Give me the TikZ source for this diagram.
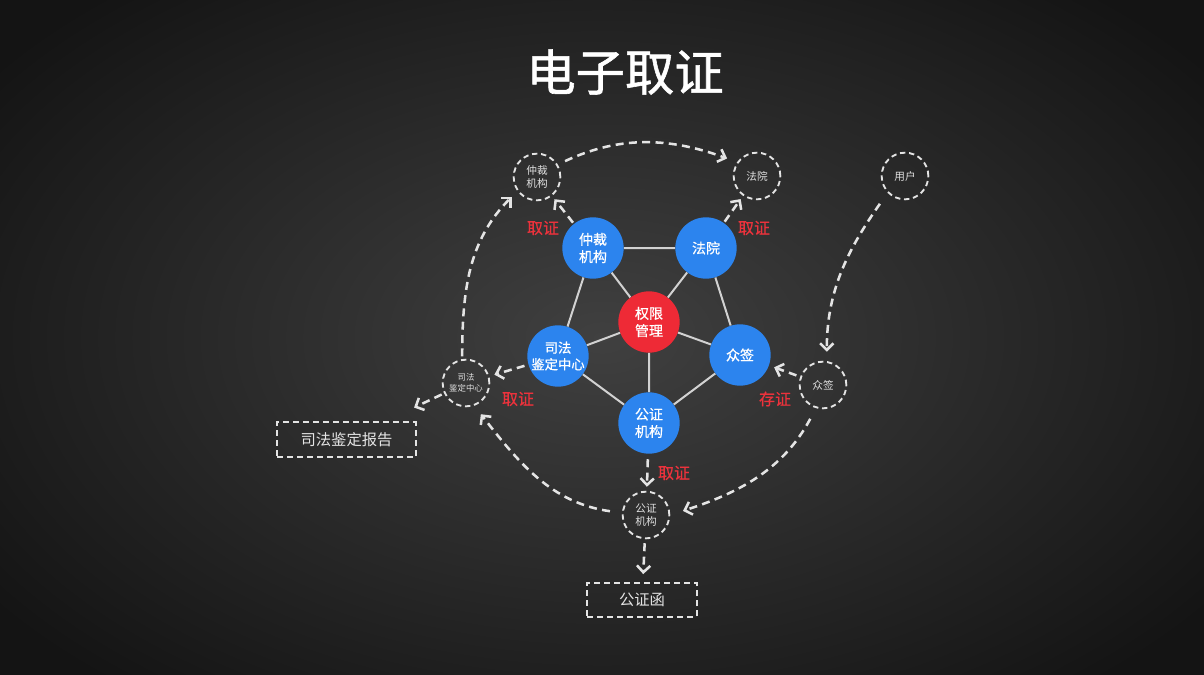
\documentclass[tikz,border=0pt]{standalone}
\usepackage{fontspec}
\setmainfont{Noto Sans CJK SC}
\newfontfamily\titlefont{Noto Sans CJK SC}[FakeBold=1.2]
\newfontfamily\nodefont{Noto Sans CJK SC}[FakeBold=0.6]
\usetikzlibrary{arrows.meta}
\definecolor{bgin}{RGB}{64,64,64}
\definecolor{bgout}{RGB}{20,20,20}
\definecolor{nblue}{RGB}{44,132,238}
\definecolor{nred}{RGB}{238,42,54}
\definecolor{lred}{RGB}{236,50,60}
\definecolor{dline}{RGB}{228,228,228}
\definecolor{sline}{RGB}{210,210,210}
\begin{document}
\begin{tikzpicture}[x=0.75pt,y=0.75pt,
  bluec/.style={circle,fill=nblue,minimum size=46pt,inner sep=0pt,text=white,align=center,font=\nodefont\fontsize{10.5}{13}\selectfont},
  redc/.style={bluec,fill=nred},
  dcirc/.style={circle,draw=dline,line width=1.4pt,dash pattern=on 4pt off 2.8pt,minimum size=35pt,inner sep=0pt,text=white!88!black,align=center,font=\fontsize{8}{10}\selectfont},
  dbox/.style={draw=dline,line width=1.4pt,dash pattern=on 4.5pt off 3pt,inner sep=0pt,text=white!90!black,font=\fontsize{11.5}{13}\selectfont},
  solidedge/.style={draw=sline,line width=1.5pt},
  darrow/.style={draw=dline,line width=1.9pt,dash pattern=on 6pt off 4pt,-{Straight Barb[length=5pt,width=10pt]}},
  lab/.style={text=lred,font=\nodefont\fontsize{12}{14}\selectfont}]
\useasboundingbox (0,0) rectangle (1204,-675);
\fill[inner color=bgin,outer color=bgout] (-150,120) rectangle (1354,-795);
% title
\node[text=white,font=\titlefont\fontsize{37}{40}\selectfont] (title) at (625,-72) {电子取证};
% central nodes
\node[redc] (rc) at (649,-322) {权限\\管理};
\node[bluec] (b1) at (593,-248) {仲裁\\机构};
\node[bluec] (b2) at (706,-248) {法院};
\node[bluec,font=\nodefont\fontsize{10}{12.5}\selectfont] (b3) at (558,-356) {司法\\鉴定中心};
\node[bluec] (b4) at (740,-355) {众签};
\node[bluec] (b5) at (649,-423) {公证\\机构};
% solid edges
\path[solidedge] (b1) -- (b2) (b2) -- (b4) (b4) -- (b5) (b5) -- (b3) (b3) -- (b1)
  (rc) -- (b1) (rc) -- (b2) (rc) -- (b3) (rc) -- (b4) (rc) -- (b5);
% dashed outer nodes
\node[dcirc] (s1) at (537,-177) {仲裁\\机构};
\node[dcirc] (s2) at (757,-176) {法院};
\node[dcirc] (su) at (905,-176) {用户};
\node[dcirc,font=\fontsize{6.3}{8}\selectfont] (s3) at (466,-383) {司法\\鉴定中心};
\node[dcirc] (s4) at (823,-385) {众签};
\node[dcirc] (s5) at (646,-515) {公证\\机构};
\node[dbox,minimum width=104pt,minimum height=26pt] (r1) at (346.5,-439.5) {司法鉴定报告};
\node[dbox,minimum width=82pt,minimum height=25.5pt] (r2) at (642,-600) {公证函};
% labels
\node[lab] (l1) at (543,-228) {取证};
\node[lab] (l2) at (754,-228) {取证};
\node[lab] (l3) at (518,-399) {取证};
\node[lab] (l4) at (674,-473) {取证};
\node[lab] (l5) at (775,-399) {存证};
% short dashed arrows
\draw[darrow,shorten <=1pt,shorten >=3pt] (b1) -- (s1);
\draw[darrow,shorten <=1pt,shorten >=3pt] (b2) -- (s2);
\draw[darrow,shorten <=3pt,shorten >=4pt] (b3) -- (s3);
\draw[darrow,shorten <=3pt,shorten >=4pt] (s4) -- (b4);
\draw[darrow,shorten <=4pt,shorten >=3pt] (b5) -- (s5);
\draw[darrow,shorten <=2pt,shorten >=24pt] (s3) -- (r1);
\draw[darrow,shorten <=3pt,shorten >=6pt] (s5) -- (r2);
% curved dashed arrows
\draw[darrow,shorten <=6pt,shorten >=8pt] (s1.31) to[out=25,in=160] (s2.145);
\draw[darrow,shorten <=2pt,shorten >=6pt] (s3.99) to[out=90,in=225] (s1.216);
\draw[darrow,shorten <=9pt,shorten >=8pt] (s5.175) to[out=172,in=-52] (s3.-70);
\draw[darrow,shorten <=9pt,shorten >=10pt] (s4.-107) to[out=-118,in=18] (s5.0);
\draw[darrow,shorten <=10pt,shorten >=7pt] (su.-136) to[out=-125,in=90] (s4.81);
\end{tikzpicture}
\end{document}
